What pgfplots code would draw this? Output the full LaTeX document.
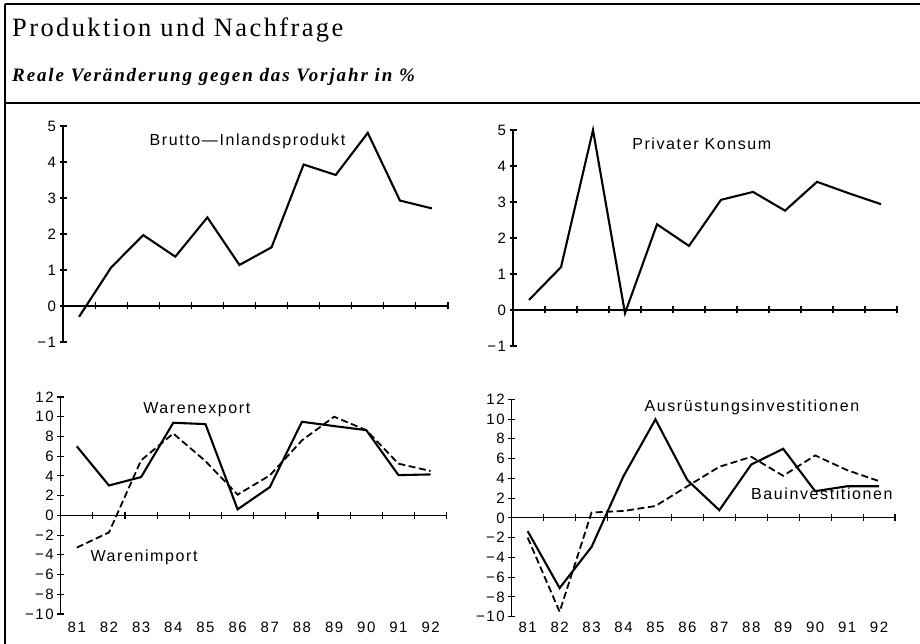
\documentclass[border=0pt]{standalone}
\usepackage{pgfplots}
\pgfplotsset{compat=1.18}
\usepackage{fontspec}
\setmainfont{Liberation Sans}
\newfontfamily\plotfont[LetterSpace=10]{Liberation Sans}
\newfontfamily\titlefont[LetterSpace=9]{Liberation Serif}
\newfontfamily\subfont[LetterSpace=10]{Liberation Serif}
\newcommand{\pf}{\plotfont\fontsize{16}{16}\selectfont}
\pgfplotsset{
  panel/.style={
    scale only axis, enlargelimits=false, clip=false,
    xmin=0, xmax=12,
    axis y line=left, axis x line=middle,
    axis line style={-, line width=1.2pt, black},
    xtick={1,...,12}, xticklabels={},
    tick align=center, major tick length=7pt,
    tick style={line width=1.1pt, black},
    tick label style={font=\plotfont\fontsize{15}{15}\selectfont},
    hide obscured x ticks=false, hide obscured y ticks=false,
  },
  top/.style={panel, ymin=-1, ymax=5, ytick={-1,0,...,5},
    yticklabels={−1,0,1,2,3,4,5}},
  bot/.style={panel, ymin=-10, ymax=12, ytick={-10,-8,...,12},
    yticklabels={−10,−8,−6,−4,−2,0,2,4,6,8,10,12},
    extra x ticks={0.5,1.5,...,11.5},
    extra x tick labels={81,82,83,84,85,86,87,88,89,90,91,92},
    extra x tick style={major tick length=0pt, xticklabel style={yshift=#1}}},
  sol/.style={black, line width=2.1pt, line join=miter},
  das/.style={black, line width=1.8pt, dash pattern=on 7pt off 3.5pt},
}
\begin{document}
\begin{tikzpicture}
\path[use as bounding box] (0,0) rectangle (920pt,644pt);
% frame
\draw[line width=1.3pt] (5pt,640pt) -- (920pt,640pt);
\draw[line width=1.3pt] (5pt,541pt) -- (920pt,541pt);
\draw[line width=1.1pt] (5pt,640pt) -- (5pt,0pt);
\node[anchor=base west, inner sep=0] at (12pt,607pt) {\titlefont\fontsize{26.5}{26.5}\selectfont Produktion und Nachfrage};
\node[anchor=base west, inner sep=0] at (12pt,562pt) {\subfont\bfseries\itshape\fontsize{19}{19}\selectfont Reale Veränderung gegen das Vorjahr in \%};

% top left
\begin{axis}[top, at={(63pt,302pt)}, anchor=south west, width=385pt, height=216pt]
\addplot[sol] coordinates {(0.5,-0.30) (1.5,1.07) (2.5,1.97) (3.5,1.37) (4.5,2.46) (5.5,1.14) (6.5,1.63) (7.5,3.93) (8.5,3.64) (9.5,4.81) (10.5,2.93) (11.5,2.71)};
\node[font=\pf] at (axis cs:5.75,4.56) {Brutto—Inlandsprodukt};
\end{axis}

% top right
\begin{axis}[top, at={(513pt,298pt)}, anchor=south west, width=384pt, height=216pt]
\addplot[sol] coordinates {(0.5,0.28) (1.5,1.19) (2.5,5.0) (3.5,-0.09) (4.5,2.38) (5.5,1.78) (6.5,3.06) (7.5,3.28) (8.5,2.76) (9.5,3.56) (10.5,3.24) (11.5,2.94)};
\node[font=\pf] at (axis cs:5.9,4.63) {Privater Konsum};
\end{axis}

% bottom left
\begin{axis}[bot=-103pt, at={(60.7pt,30pt)}, anchor=south west, width=386pt, height=217pt]
\addplot[sol] coordinates {(0.5,7.0) (1.5,3.03) (2.5,3.88) (3.5,9.39) (4.5,9.25) (5.5,0.61) (6.5,2.86) (7.5,9.49) (8.5,9.05) (9.5,8.64) (10.5,4.08) (11.5,4.15)};
\addplot[das] coordinates {(0.5,-3.27) (1.5,-1.73) (2.5,5.58) (3.5,8.3) (4.5,5.5) (5.5,2.1) (6.5,4.05) (7.5,7.6) (8.5,10.0) (9.5,8.64) (10.5,5.24) (11.5,4.5)};
\node[font=\pf] at (axis cs:4.23,10.75) {Warenexport};
\node[font=\pf] at (axis cs:2.59,-4.29) {Warenimport};
\end{axis}

% bottom right
\begin{axis}[bot=-100.6pt, at={(511.7pt,27.3pt)}, anchor=south west, width=383.3pt, height=217.4pt]
\addplot[sol] coordinates {(0.5,-1.35) (1.5,-7.1) (2.5,-2.94) (3.5,4.22) (4.5,9.97) (5.5,3.82) (6.5,0.78) (7.5,5.4) (8.5,6.99) (9.5,2.7) (10.5,3.2) (11.5,3.2)};
\addplot[das] coordinates {(0.5,-2.0) (1.5,-9.5) (2.5,0.54) (3.5,0.7) (4.5,1.2) (5.5,3.2) (6.5,5.17) (7.5,6.18) (8.5,4.26) (9.5,6.32) (10.5,4.83) (11.5,3.72)};
\node[font=\pf] at (axis cs:7.52,11.18) {Ausrüstungsinvestitionen};
\node[font=\pf] at (axis cs:9.71,2.47) {Bauinvestitionen};
\end{axis}
\end{tikzpicture}
\end{document}
